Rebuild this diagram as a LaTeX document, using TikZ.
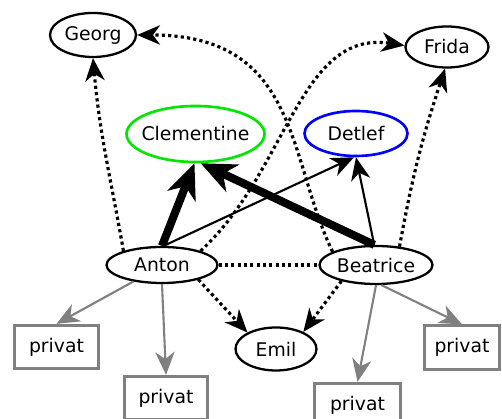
\documentclass[tikz,border=0pt]{standalone}
\usepackage{fontspec}
\setmainfont{DejaVu Sans}
\usepackage{tikz}
\usetikzlibrary{arrows.meta, shapes.geometric}

\definecolor{boxgray}{RGB}{128,128,128}
\definecolor{nodegreen}{RGB}{0,230,0}

\begin{document}
\begin{tikzpicture}[>={Stealth[length=13pt,width=11pt,inset=4pt]},
    font=\fontsize{10.7}{12}\selectfont,
    person/.style={ellipse, draw, line width=1.3pt, inner sep=0pt},
    privat/.style={rectangle, draw=boxgray, line width=1.6pt, minimum height=0.87cm, inner sep=0pt},
    strong/.style={->, line width=4.6pt, >={Stealth[length=20pt,width=17pt,inset=6pt]}},
    weak/.style={->, line width=1.2pt},
    hidden/.style={line width=1.8pt, dash pattern=on 1.8pt off 1.8pt},
    private/.style={->, draw=boxgray, line width=1.2pt}]
    \useasboundingbox (0,0) rectangle (10.04,8.38);

    % people
    \node[person, minimum width=1.72cm, minimum height=0.88cm] (georg) at (1.86,7.68) {Georg};
    \node[person, minimum width=1.66cm, minimum height=0.82cm] (frida) at (8.94,7.44) {Frida};
    \node[person, draw=nodegreen, line width=1.5pt, inner xsep=-5pt,
      minimum width=2.76cm, minimum height=1.12cm] (clem) at (3.91,5.70) {Clementine};
    \node[person, draw=blue, line width=1.5pt,
      minimum width=2.06cm, minimum height=0.90cm] (detlef) at (7.12,5.71) {Detlef};
    \node[person, minimum width=2.22cm, minimum height=0.72cm] (anton) at (3.24,3.08) {Anton};
    \node[person, minimum width=2.26cm, minimum height=0.76cm] (beatrice) at (7.52,3.08) {Beatrice};
    \node[person, minimum width=1.62cm, minimum height=0.86cm] (emil) at (5.52,1.40) {Emil};

    % private boxes
    \foreach \Name/\Pos/\Width in {
      p1/{(1.13,1.44)}/1.69,
      p2/{(3.32,0.42)}/1.67,
      p3/{(7.15,0.28)}/1.73,
      p4/{(9.24,1.43)}/1.51
    }
    \node[privat, minimum width=\Width cm] (\Name) at \Pos {privat};

    % strong and weak ties
    \draw[strong] (anton.north) -- (clem.-92);
    \draw[strong] (beatrice.95) -- (clem.-80);
    \draw[weak] (anton.85) -- (detlef.-95);
    \draw[weak] (beatrice.95) -- (detlef.south);

    % hidden ties
    \draw[hidden, ->] (anton.160) to[out=100, in=-85] (georg.south);
    \draw[hidden, ->] (beatrice.163) .. controls +(-0.9,1.84) and +(3.26,0) .. (georg.east);
    \draw[hidden, ->] (anton.20) .. controls +(1.74,1.6) and +(-2.1,0.32) .. (frida.178);
    \draw[hidden, ->] (beatrice.38) to[bend left=4] (frida.-95);
    \draw[hidden] (anton.east) -- (beatrice.west);
    \draw[hidden, ->] (anton.-22) -- (emil.150);
    \draw[hidden, ->] (beatrice.-155) -- (emil.32);

    % private ties
    \draw[private] (anton.-150) -- (p1.north);
    \draw[private] (anton.south) -- (p2.north);
    \draw[private] (beatrice.south) -- (p3.north);
    \draw[private] (beatrice.-75) -- (p4.north);
\end{tikzpicture}
\end{document}
